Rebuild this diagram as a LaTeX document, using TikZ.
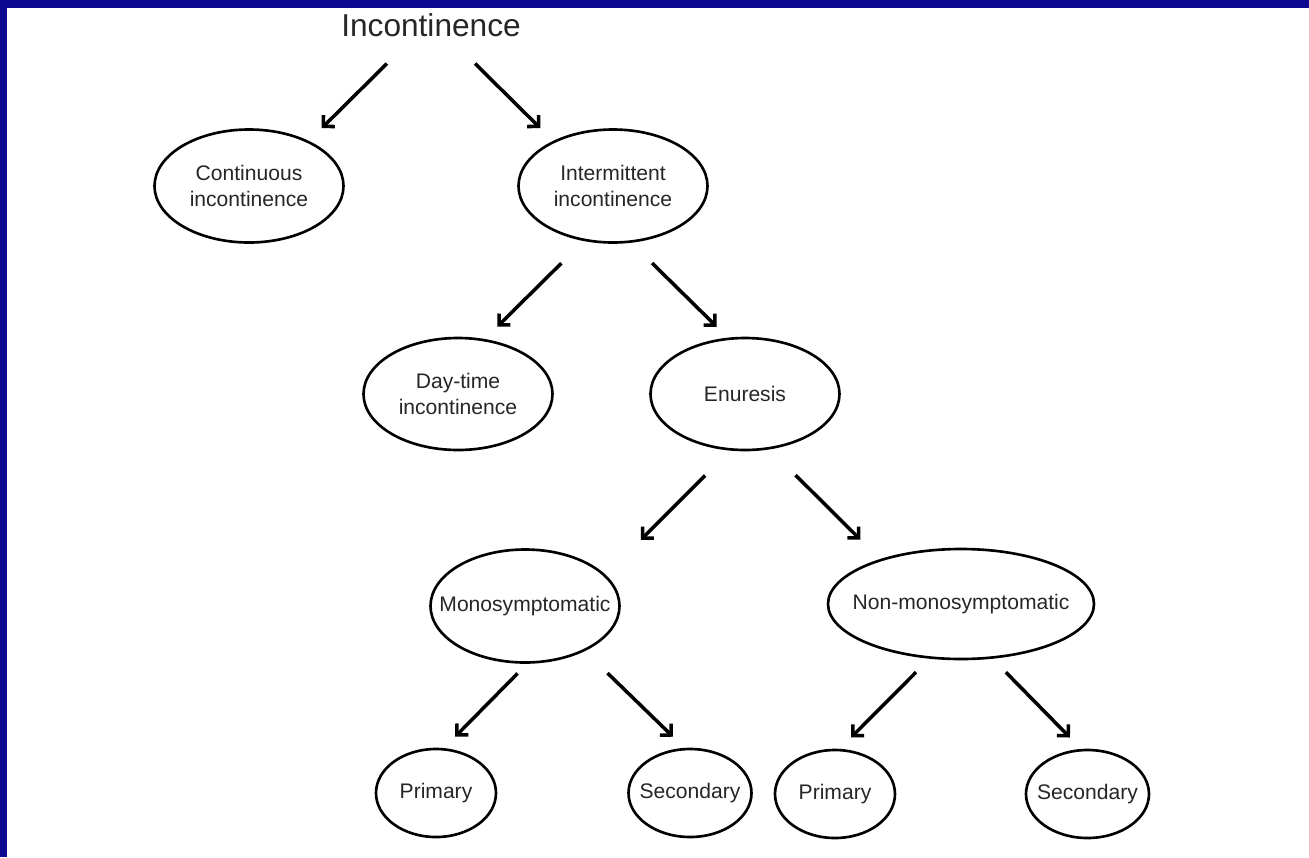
\documentclass[tikz,border=0pt]{standalone}
\usepackage{fontspec}
\setmainfont{Liberation Sans}
\usetikzlibrary{arrows.meta, shapes.geometric}
\definecolor{framebl}{RGB}{12,8,144}

\begin{document}
\begin{tikzpicture}[
    oval/.style={draw, ellipse, line width=1.5pt, inner xsep=-1cm, inner ysep=0pt,
                 font=\fontsize{12}{14.4}\selectfont, text=black!85, align=center},
    big/.style={oval, minimum width=3.78cm, minimum height=2.24cm},
    wide/.style={oval, minimum width=5.32cm, minimum height=2.2cm},
    small/.style={oval, minimum width=2.4cm, minimum height=1.76cm},
    arr/.style={line width=2pt, -{Straight Barb[angle=90:6.5pt]}}
  ]
  % page and blue frame
  \useasboundingbox (0,0) rectangle (26.18,-17.14);
  \fill[framebl] (0,0) rectangle (26.18,-0.16);
  \fill[framebl] (0,0) rectangle (0.14,-17.14);

  % Title
  \node[font=\fontsize{18}{21}\selectfont, text=black!85, inner sep=0pt] (inc) at (8.62,-0.51) {Incontinence};

  % Level 1
  \node[big, minimum height=2.26cm] (cont) at (4.98,-3.72) {Continuous\\incontinence};
  \node[big, minimum height=2.26cm] (int) at (12.26,-3.72) {Intermittent\\incontinence};

  % Level 2
  \node[big] (day) at (9.16,-7.88) {Day-time\\incontinence};
  \node[big] (enu) at (14.9,-7.88) {Enuresis};

  % Level 3
  \node[big, minimum height=2.26cm] (mono) at (10.5,-12.12) {Monosymptomatic};
  \node[wide] (non) at (19.22,-12.08) {Non-monosymptomatic};

  % Level 4
  \node[small] (monopri) at (8.72,-15.86) {Primary};
  \node[small, minimum width=2.46cm] (monosec) at (13.8,-15.86) {Secondary};
  \node[small] (nonpri) at (16.7,-15.88) {Primary};
  \node[small, minimum width=2.46cm] (nonsec) at (21.75,-15.88) {Secondary};

  % Arrows
  \draw[arr, shorten <=0.74cm, shorten >=0.36cm] (inc.214) -- (cont.37);
  \draw[arr, shorten <=0.74cm, shorten >=0.36cm] (inc.326) -- (int.143);
  \draw[arr, shorten <=0.63cm, shorten >=0.35cm] (int.242) -- (day.64);
  \draw[arr, shorten <=0.58cm, shorten >=0.31cm] (int.288) -- (enu.107);
  \draw[arr, shorten <=0.70cm, shorten >=0.99cm] (enu.255) -- (mono.21);
  \draw[arr, shorten <=0.73cm, shorten >=0.55cm] (enu.294) -- (non.151);
  \draw[arr, shorten <=0.27cm, shorten >=0.32cm] (mono.272) -- (monopri.80);
  \draw[arr, shorten <=0.63cm, shorten >=0.32cm] (mono.323) -- (monosec.97);
  \draw[arr, shorten <=0.38cm, shorten >=0.32cm] (non.240) -- (nonpri.84);
  \draw[arr, shorten <=0.38cm, shorten >=0.32cm] (non.300) -- (nonsec.98);
\end{tikzpicture}
\end{document}
